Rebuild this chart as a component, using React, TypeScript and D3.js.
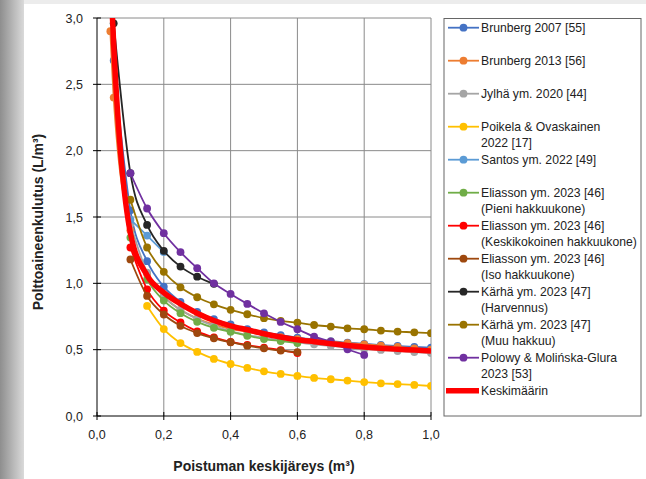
import React from "react";
import * as d3 from "d3";

// x values (m3) used by the series
const xGrid = [0.05, 0.1, 0.15, 0.2, 0.25, 0.3, 0.35, 0.4, 0.45, 0.5, 0.55, 0.6, 0.65, 0.7, 0.75, 0.8, 0.85, 0.9, 0.95, 1.0];

const brunberg2007 = [2.68, 1.55, 1.167, 0.975, 0.86, 0.785, 0.73, 0.69, 0.655, 0.63, 0.61, 0.59, 0.577, 0.565, 0.553, 0.544, 0.535, 0.528, 0.521, 0.515];
const brunberg2013 = [2.9, 2.4, 1.4, 1.07, 0.9, 0.8, 0.735, 0.69, 0.655, 0.635, 0.61, 0.595, 0.58, 0.57, 0.56, 0.55, 0.54, 0.53, 0.52, 0.51, 0.5];
const jylha2020 = [1.45, 1.08, 0.9, 0.8, 0.73, 0.68, 0.64, 0.61, 0.59, 0.57, 0.555, 0.54, 0.528, 0.515, 0.505, 0.498, 0.49, 0.482, 0.475];
const poikela2022 = [0.83, 0.655, 0.55, 0.483, 0.43, 0.392, 0.362, 0.337, 0.317, 0.302, 0.287, 0.277, 0.267, 0.256, 0.246, 0.241, 0.234, 0.226];
const santos2022 = [1.48, 1.36, 1.235];
const eliassonPieni = [1.345, 1.03, 0.87, 0.775, 0.71, 0.665, 0.635, 0.605, 0.58, 0.565, 0.55];
const eliassonKeski = [1.27, 0.955, 0.795, 0.705, 0.638, 0.592, 0.558, 0.535, 0.515, 0.497, 0.475];
const eliassonIso = [1.18, 0.905, 0.765, 0.68, 0.625, 0.586, 0.556, 0.53, 0.51, 0.493, 0.482];
const karhaHarvennus = [2.96, 1.83, 1.44, 1.245, 1.126, 1.05, 0.996];
const karhaMuu = [1.63, 1.27, 1.087, 0.97, 0.895, 0.842, 0.8, 0.767, 0.737, 0.717, 0.704, 0.686, 0.674, 0.661, 0.654, 0.644, 0.636, 0.631, 0.624];
const polowy2023 = [1.83, 1.564, 1.378, 1.235, 1.114, 1.0, 0.92, 0.845, 0.774, 0.709, 0.654, 0.598, 0.56, 0.503, 0.46];
const keskimaarin = [3.35, 2.8, 1.38, 1.06, 0.93, 0.845, 0.775, 0.72, 0.68, 0.65, 0.62, 0.595, 0.575, 0.56, 0.545, 0.532, 0.52, 0.51, 0.503, 0.497, 0.49];

const xTicks = [0, 0.2, 0.4, 0.6, 0.8, 1.0];
const yTicks = [0, 0.5, 1.0, 1.5, 2.0, 2.5, 3.0];

const series = [
  { name: ["Brunberg 2007 [55]"], color: "#4472C4", xs: xGrid, ys: brunberg2007 },
  { name: ["Brunberg 2013 [56]"], color: "#ED7D31", xs: [0.04, ...xGrid], ys: brunberg2013 },
  { name: ["Jylhä ym. 2020 [44]"], color: "#A5A5A5", xs: xGrid.slice(1), ys: jylha2020 },
  { name: ["Poikela & Ovaskainen", "2022 [17]"], color: "#FFC000", xs: xGrid.slice(2), ys: poikela2022 },
  { name: ["Santos ym. 2022 [49]"], color: "#5B9BD5", xs: xGrid.slice(1, 4), ys: santos2022 },
  { name: ["Eliasson ym. 2023 [46]", "(Pieni hakkuukone)"], color: "#70AD47", xs: xGrid.slice(1, 12), ys: eliassonPieni },
  { name: ["Eliasson ym. 2023 [46]", "(Keskikokoinen hakkuukone)"], color: "#FF0000", xs: xGrid.slice(1, 12), ys: eliassonKeski },
  { name: ["Eliasson ym. 2023 [46]", "(Iso hakkuukone)"], color: "#9E480E", xs: xGrid.slice(1, 12), ys: eliassonIso },
  { name: ["Kärhä ym. 2023 [47]", "(Harvennus)"], color: "#262626", xs: xGrid.slice(0, 7), ys: karhaHarvennus },
  { name: ["Kärhä ym. 2023 [47]", "(Muu hakkuu)"], color: "#997300", xs: xGrid.slice(1), ys: karhaMuu },
  { name: ["Polowy & Molińska-Glura", "2023 [53]"], color: "#7030A0", xs: xGrid.slice(1, 16), ys: polowy2023 },
];
const meanSeries = { name: ["Keskimäärin"], color: "#FF0000", xs: [0.04, ...xGrid], ys: keskimaarin };

const W = 646, H = 479;
const plot = { left: 97, right: 431, top: 18, bottom: 416 };
const font = "'Liberation Sans', Arial, sans-serif";

export default function App() {
  const x = d3.scaleLinear().domain([0, 1]).range([plot.left, plot.right]);
  const y = d3.scaleLinear().domain([0, 3]).range([plot.bottom, plot.top]);
  const line = d3
    .line<[number, number]>()
    .x((d) => x(d[0]))
    .y((d) => y(d[1]))
    .curve(d3.curveMonotoneX);
  const pts = (s: { xs: number[]; ys: number[] }) => s.xs.map((v, i) => [v, s.ys[i]] as [number, number]);
  const fmt = (t: number) => d3.format(".1f")(t).replace(".", ",");

  const legendTop = 27.7;
  const legendStep = 33;

  return (
    <svg width={W} height={H} style={{ position: "absolute", left: 0, top: 0, fontFamily: font }}>
      <defs>
        <linearGradient id="side" x1="0" x2="1" y1="0" y2="0">
          <stop offset="0" stopColor="#8e8e8e" />
          <stop offset="1" stopColor="#dadada" />
        </linearGradient>
        <clipPath id="plotClip">
          <rect x={plot.left} y={plot.top} width={plot.right - plot.left} height={plot.bottom - plot.top} />
        </clipPath>
      </defs>
      <rect x={0} y={0} width={W} height={H} fill="#fff" />
      <rect x={0} y={0} width={W} height={4} fill="#ececec" />
      <rect x={0} y={0} width={24} height={H} fill="url(#side)" />

      {/* grid */}
      {yTicks.filter((t) => t > 0).map((t) => (
        <line key={"gy" + t} x1={plot.left} x2={plot.right} y1={y(t)} y2={y(t)} stroke="#8a8a8a" strokeWidth={1} />
      ))}
      {xTicks.filter((t) => t > 0).map((t) => (
        <line key={"gx" + t} x1={x(t)} x2={x(t)} y1={plot.top} y2={plot.bottom} stroke="#8a8a8a" strokeWidth={1} />
      ))}

      {/* axes */}
      <line x1={plot.left} x2={plot.left} y1={plot.top} y2={plot.bottom} stroke="#000" />
      <line x1={plot.left} x2={plot.right} y1={plot.bottom} y2={plot.bottom} stroke="#000" />
      {yTicks.map((t) => (
        <g key={"ty" + t}>
          <line x1={plot.left - 4} x2={plot.left + 4} y1={y(t)} y2={y(t)} stroke="#000" />
          <text x={83} y={y(t) + 4.5} textAnchor="end" fontSize={12.5} fill="#222">
            {fmt(t)}
          </text>
        </g>
      ))}
      {xTicks.map((t) => (
        <g key={"tx" + t}>
          <line x1={x(t)} x2={x(t)} y1={plot.bottom - 4} y2={plot.bottom + 4} stroke="#000" />
          <text x={x(t)} y={439} textAnchor="middle" fontSize={12.5} fill="#222">
            {fmt(t)}
          </text>
        </g>
      ))}

      {/* series */}
      <g clipPath="url(#plotClip)">
        {series.map((s, i) => (
          <g key={"s" + i}>
            <path d={line(pts(s)) ?? ""} fill="none" stroke={s.color} strokeWidth={1.8} />
            {pts(s).map((p, j) => (
              <circle key={j} cx={x(p[0])} cy={y(p[1])} r={3.9} fill={s.color} />
            ))}
          </g>
        ))}
        <path d={line(pts(meanSeries)) ?? ""} fill="none" stroke={meanSeries.color} strokeWidth={5.5} strokeLinejoin="round" />
      </g>

      {/* axis titles */}
      <text x={264} y={471} textAnchor="middle" fontSize={14} fontWeight="bold" fill="#222">
        Poistuman keskijäreys (m³)
      </text>
      <text transform={`translate(43,222) rotate(-90)`} textAnchor="middle" fontSize={14} fontWeight="bold" fill="#222">
        Polttoaineenkulutus (L/m³)
      </text>

      {/* legend */}
      <rect x={444} y={18.5} width={197} height={397.5} fill="#fff" stroke="#666" strokeWidth={1} />
      {[...series, meanSeries].map((s, i) => {
        const cy = legendTop + i * legendStep;
        const isMean = i === series.length;
        return (
          <g key={"l" + i}>
            <line x1={isMean ? 446 : 448} x2={479} y1={cy} y2={cy} stroke={s.color} strokeWidth={isMean ? 5.5 : 1.8} />
            {!isMean && <circle cx={463.5} cy={cy} r={3.9} fill={s.color} />}
            {s.name.map((n, k) => (
              <text key={k} x={481} y={cy + 4.4 + k * 16.3} fontSize={12.2} fill="#222">
                {n}
              </text>
            ))}
          </g>
        );
      })}
    </svg>
  );
}
